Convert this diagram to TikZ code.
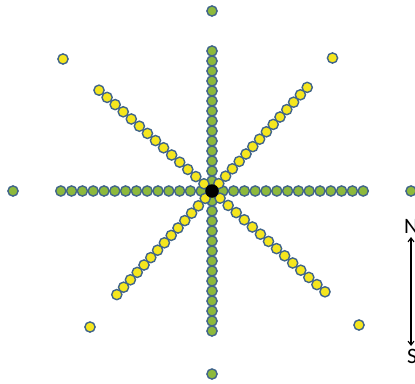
\documentclass[tikz,border=0pt]{standalone}
\usepackage{fontspec}
\setmainfont{Carlito}
\usetikzlibrary{arrows.meta}
\definecolor{dotgreen}{HTML}{8DB93C}
\definecolor{dotyellow}{HTML}{F5E61E}
\definecolor{dotedge}{HTML}{41658A}
\begin{document}
\begin{tikzpicture}[x=1pt,y=-1pt,
 dotbase/.style={circle,draw=dotedge,line width=1.4pt,minimum size=10.2pt,inner sep=0pt},
 gdot/.style={dotbase,fill=dotgreen},
 ydot/.style={dotbase,fill=dotyellow},
 cdot/.style={circle,fill=black,minimum size=13.5pt,inner sep=0pt},
 lbl/.style={font=\fontsize{22}{22}\selectfont,inner sep=0pt,anchor=base west},
 nsarrow/.style={{Straight Barb[length=4pt,width=6pt]}-{Straight Barb[length=4pt,width=6pt]},line width=1.1pt,black}]
\useasboundingbox (0,0) rectangle (415,383);
% green arms
\foreach \i in {1,...,14}{
  \node[gdot] (gu\i) at (212,191-10*\i) {};
  \node[gdot] (gd\i) at (212,191+10*\i) {};
  \node[gdot] (gl\i) at (212-10.8*\i,191) {};
  \node[gdot] (gr\i) at (212+10.8*\i,191) {};
}
% yellow diagonals
\foreach \i in {1,...,14}{
  \node[ydot] (yul\i) at (212-8.07*\i,191-7.2*\i) {};
  \node[ydot] (ylr\i) at (212+8.07*\i,191+7.2*\i) {};
  \node[ydot] (yur\i) at (212+6.8*\i,191-7.4*\i) {};
  \node[ydot] (yll\i) at (212-6.8*\i,191+7.4*\i) {};
}
\node[cdot] (center) at (212,191) {};
% isolated dots
\node[gdot] (gtop) at (212,11) {};
\node[gdot] (gbot) at (212,374) {};
\node[gdot] (gleft) at (13,191) {};
\node[gdot] (gright) at (411,191) {};
\node[ydot] (ytl) at (63,59) {};
\node[ydot] (ytr) at (332.5,58) {};
\node[ydot] (ybl) at (90,327) {};
\node[ydot] (ybr) at (359,325) {};
% N-S arrow
\node[lbl] (nlab) at (404,233) {N};
\node[lbl] (slab) at (407,363) {S};
\coordinate (ntip) at (411,237);
\coordinate (stip) at (411,346);
\draw[nsarrow] (ntip) -- (stip);
\end{tikzpicture}
\end{document}
